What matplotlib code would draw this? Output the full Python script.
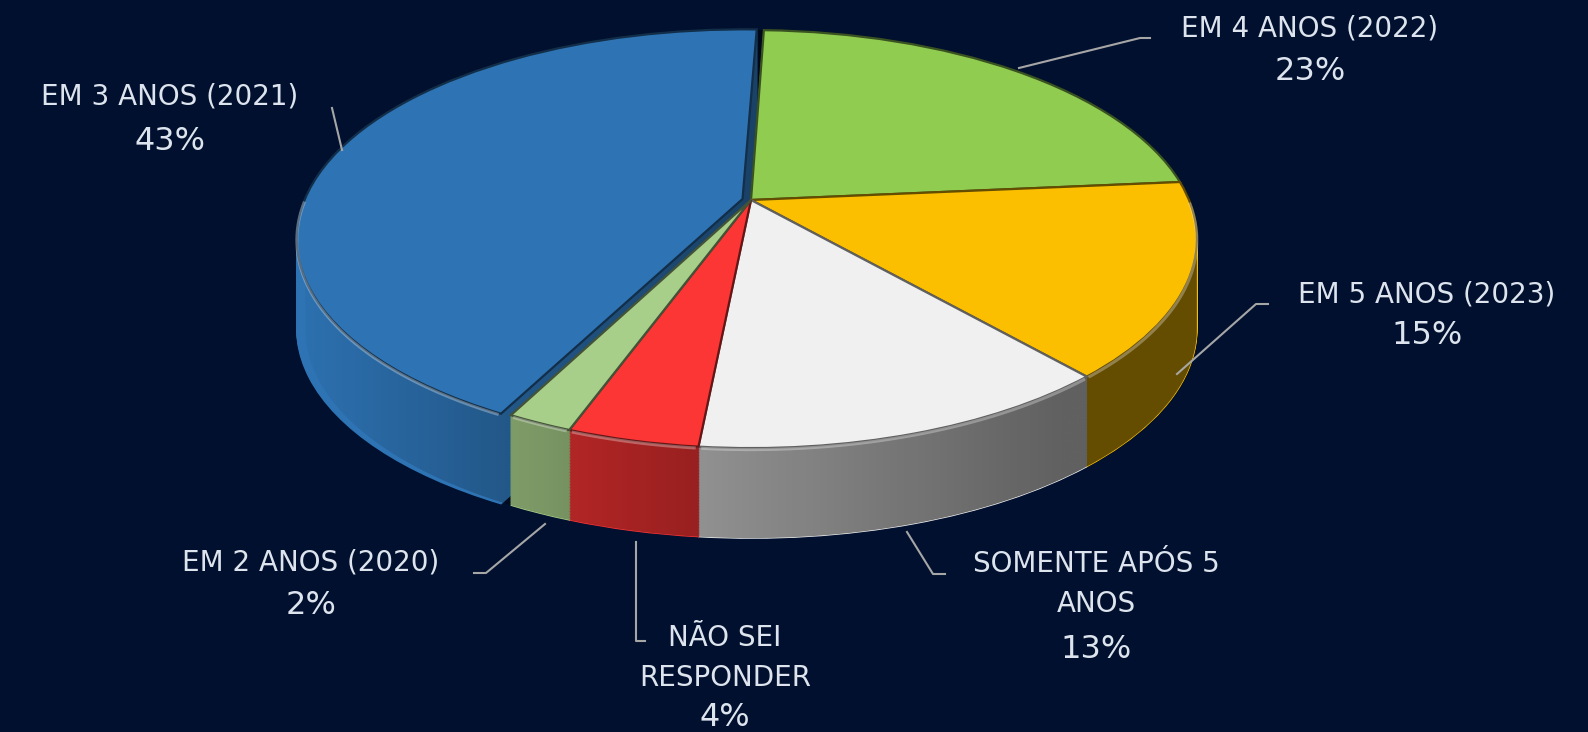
#!/usr/bin/env python3
"""
Pizza 3D: em quantos anos ... (recriação em matplotlib)
"""

import numpy as np
import matplotlib
matplotlib.use("Agg")
import matplotlib.pyplot as plt
import matplotlib.transforms as mtransforms
from matplotlib.colors import to_rgb
from matplotlib.path import Path
from matplotlib.patches import PathPatch

# dados (ordem horária a partir do topo)
labels = ["EM 4 ANOS (2022)", "EM 5 ANOS (2023)", "SOMENTE APÓS 5\nANOS",
          "NÃO SEI\nRESPONDER", "EM 2 ANOS (2020)", "EM 3 ANOS (2021)"]
values = [23, 15, 13, 4, 2, 43]
colors = ["#8fcc50", "#fbbf00", "#f0f0f0", "#fc3535", "#a8cf8a", "#2e74b5"]
explode = [0, 0, 0, 0, 0, 0.02]

BG = "#00102e"
TXT = "#dde4ee"
LINE = "#a6a6a6"

# perspectiva (pixels)
X0, Y0 = 751, 200
A, B, C = 438, 201.7, 0.187
DEPTH = 90
START = 88

# posição dos rótulos: (x centro, y da primeira linha, y do percentual)
label_pos = [(1310, 28, 71), (1427, 294, 336), (1096, 564, 649),
             (725, 638, 718), (311, 563, 606), (170, 97, 142)]
leaders = [([1019, 1140, 1150], [68, 38, 38]),
           ([1177, 1256, 1268], [374, 304, 304]),
           ([907, 933, 945], [532, 574, 574]),
           ([636, 636, 645], [542, 641, 641]),
           ([545, 486, 474], [524, 573, 573]),
           ([342, 332], [150, 108])]


class Perspective(mtransforms.Transform):
    """Círculo unitário -> elipse em perspectiva (coordenadas em pixels)."""
    input_dims = 2
    output_dims = 2
    is_separable = False

    def __init__(self, dy=0.0):
        super().__init__()
        self.dy = dy

    def transform_non_affine(self, pts):
        pts = np.asarray(pts, dtype=float)
        u, v = pts[:, 0], pts[:, 1]
        d = 1 + C * v
        return np.column_stack([X0 + A * u / d, Y0 - B * v / d + self.dy])


def shade(c, f):
    r, g, b = to_rgb(c)
    return (r * f, g * f, b * f)


fig = plt.figure(figsize=(15.88, 7.32), dpi=100, facecolor=BG)
ax = fig.add_axes([0, 0, 1, 1])
ax.set_facecolor(BG)


def draw_pie(dy, zorder, edge_factor=None, lw=1.0):
    wedges, _ = ax.pie(values, colors=colors, startangle=START, counterclock=False,
                       explode=explode, radius=1.0, wedgeprops=dict(linewidth=lw))
    tr = Perspective(dy) + ax.transData
    for w, c in zip(wedges, colors):
        w.set_transform(tr)
        w.set_zorder(zorder)
        if edge_factor is None:
            w.set_edgecolor(c)
        else:
            w.set_edgecolor(shade(c, edge_factor))
    return wedges


# paredes laterais: camadas empilhadas
for dy in np.arange(DEPTH, 0, -1.5):
    draw_pie(dy, 1)

# sombreamento horizontal das laterais
t_r = -np.arcsin(C)
t_l = np.pi - t_r
th_top = np.linspace(t_r, t_l, 300)
th_bot = np.linspace(t_l, 2 * np.pi + t_r, 300)
p_top = Perspective(0).transform(np.column_stack([np.cos(th_top), np.sin(th_top)]))
p_bot = Perspective(DEPTH).transform(np.column_stack([np.cos(th_bot), np.sin(th_bot)]))
sil = np.vstack([p_top, p_bot, p_top[:1]])
clip = PathPatch(Path(sil), transform=ax.transData, facecolor="none", edgecolor="none")
ax.add_patch(clip)

gx = np.linspace(280, 1220, 400)
alpha = np.interp(gx, [300, 500, 700, 1060, 1220], [0.03, 0.24, 0.40, 0.60, 0.60])
grad = np.zeros((1, gx.size, 4))
grad[0, :, 3] = alpha
im = ax.imshow(grad, extent=[280, 1220, 560, 10], aspect="auto", zorder=2,
               interpolation="bilinear")
im.set_clip_path(clip)

# face superior
top = draw_pie(0, 3, edge_factor=0.4, lw=1.6)

# brilho na borda frontal de cada fatia
persp0 = Perspective(0)
for w in top:
    t1, t2 = w.theta1, w.theta2
    for lo, hi in ((180, 360), (-180, 0)):
        a1, a2 = max(t1, lo), min(t2, hi)
        if a2 - a1 < 0.5:
            continue
        th = np.radians(np.linspace(a1 + 0.3, a2 - 0.3, 120))
        cx, cy = w.center
        pts = persp0.transform(np.column_stack([cx + w.r * np.cos(th),
                                                cy + w.r * np.sin(th)]))
        ax.plot(pts[:, 0], pts[:, 1] + 1.5, color="white", alpha=0.3, lw=2.2,
                zorder=4, solid_capstyle="butt")

# rótulos
for lab, val, (x, y1, yp), (lx, ly) in zip(labels, values, label_pos, leaders):
    lines = lab.split("\n")
    for i, ln in enumerate(lines):
        ax.text(x, y1 + i * 40, ln, ha="center", va="center", color=TXT,
                fontsize=20, family="DejaVu Sans", zorder=6)
    ax.text(x, yp, f"{val}%", ha="center", va="center", color=TXT,
            fontsize=23, family="DejaVu Sans", zorder=6)
    ax.plot(lx, ly, color=LINE, lw=1.5, zorder=5)

ax.set_aspect("auto")
ax.set_xlim(0, 1588)
ax.set_ylim(732, 0)
ax.axis("off")

fig.savefig("out.png", dpi=100, facecolor=BG)
